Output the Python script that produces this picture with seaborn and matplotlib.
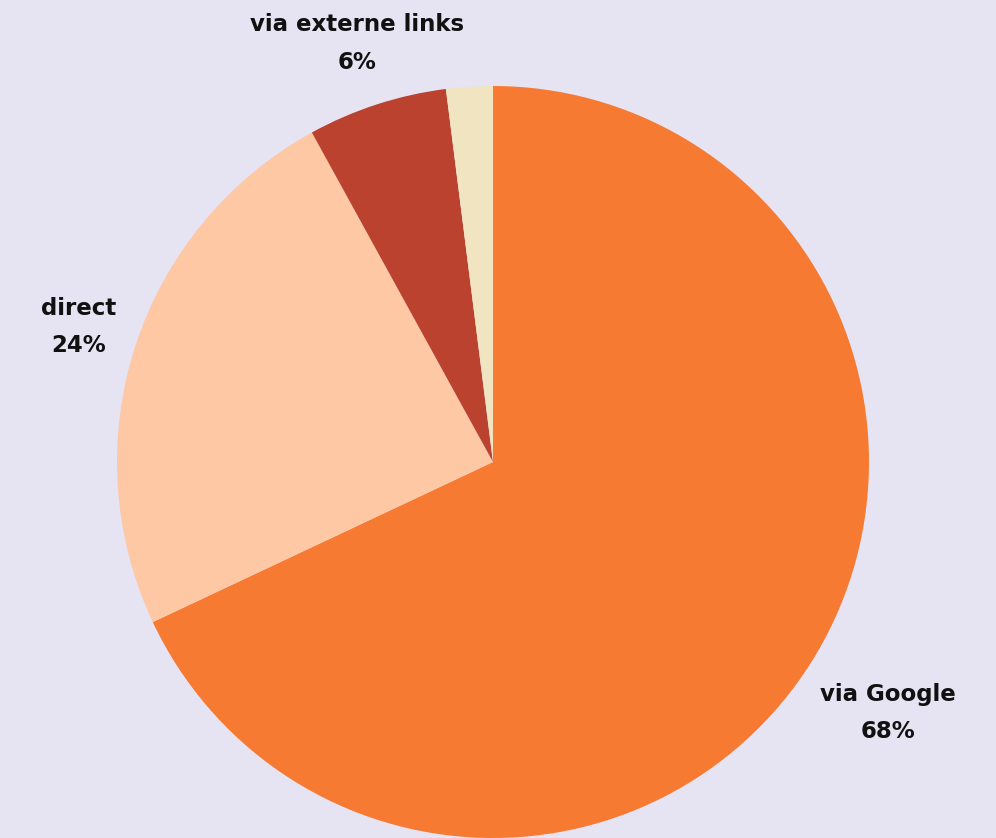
import numpy as np
import seaborn as sns
import matplotlib.pyplot as plt

# data
labels = ["via Google", "direct", "via externe links", ""]
shares = [68, 24, 6, 2]
colors = ["#F77A32", "#FFC8A5", "#BB422E", "#F0E5C0"]
label_dist = [1.245, 1.16, 1.17, 0]

sns.set_theme(style="white")
plt.rcParams["font.family"] = ["DejaVu Sans"]

bg = "#E6E3F3"
fig = plt.figure(figsize=(9.96, 8.38), dpi=100, facecolor=bg)
ax = fig.add_axes([0, 0, 1, 1])
ax.set_facecolor(bg)

wedges, _ = ax.pie(shares, colors=sns.color_palette(colors), startangle=90,
                   counterclock=False, radius=1, center=(0, 0),
                   wedgeprops=dict(linewidth=0))

for w, lab, val, d in zip(wedges, labels, shares, label_dist):
    if not lab:
        continue
    mid = np.deg2rad((w.theta1 + w.theta2) / 2)
    ax.text(d * np.cos(mid), d * np.sin(mid), f"{lab}\n{val}%",
            ha="center", va="center", fontsize=16.5, fontweight="bold",
            color="#111111", linespacing=1.8)

ax.set_xlim(-493 / 376, 503 / 376)
ax.set_ylim(-376 / 376, 462 / 376)
ax.set_aspect("equal")
ax.axis("off")

fig.savefig("out.png", dpi=100, facecolor=bg)
